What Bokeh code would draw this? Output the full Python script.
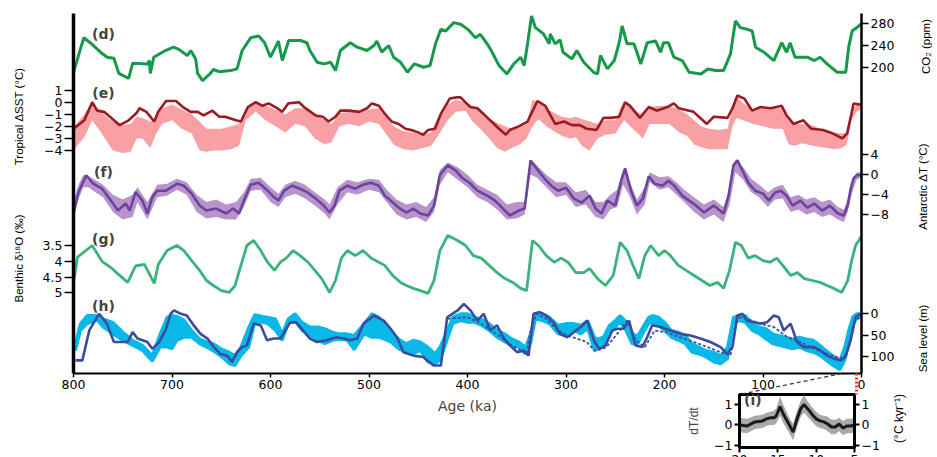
from bokeh.plotting import figure
from bokeh.models import Range1d, LinearAxis, FixedTicker, Label
from bokeh.layouts import column
from bokeh.embed import file_html
from bokeh.resources import INLINE

# ---------------- data ----------------
co2_age = [800, 789.5, 783, 772.6, 765.8, 759, 754, 744, 740, 725, 723, 722, 718.6, 706.6, 698.5, 693, 684.5, 681, 676, 674,
           669, 661, 658, 652, 640.6, 634, 628.7, 620, 612, 606, 600, 595, 592, 588, 581.5, 569.5, 563, 560, 552.6, 546,
           539, 534, 529, 519, 512, 502, 495, 492, 487, 480, 475, 468, 461, 454, 444.5, 438, 432.5, 427, 422, 414,
           407, 399, 392, 387, 380, 375, 368, 360, 353, 346, 342.5, 339, 335, 331, 323, 317, 316, 311, 306, 303,
           294, 289, 282, 272, 268, 265, 258, 251, 246, 243, 238, 231, 224, 217.6, 209, 204, 201, 196, 190.5, 182,
           175, 163, 156, 148, 140, 133, 128, 123, 116, 111, 107.6, 99, 89, 81, 76, 72.5, 67.5, 55, 48, 42,
           35, 24.7, 16, 13, 9.5, 2.7, 0]
co2_ppm = [192, 254, 245, 228, 219, 217, 190, 181, 208, 207, 213, 190, 219, 231, 237, 233, 222, 231, 216, 190,
           177, 190, 197, 193, 195, 198, 231, 254, 257, 245, 219, 237, 248, 213, 249, 249, 245, 231, 210, 207,
           210, 195, 231, 245, 237, 231, 240, 248, 228, 240, 219, 210, 192, 207, 201, 204, 243, 269, 266, 281,
           278, 268, 254, 260, 243, 228, 204, 189, 207, 219, 204, 243, 293, 272, 261, 243, 261, 243, 250, 228,
           216, 231, 210, 192, 189, 222, 198, 213, 245, 275, 243, 243, 207, 245, 248, 228, 245, 245, 219, 213,
           192, 189, 198, 195, 195, 225, 284, 272, 269, 266, 237, 228, 213, 245, 228, 245, 219, 219, 213, 219,
           207, 192, 192, 237, 266, 275, 280]

sst_age = [800, 789, 781, 776, 769, 763, 753, 744, 736, 733, 726, 718, 714, 706, 696, 689, 681, 674, 668, 659,
           652, 646, 635, 630, 623, 615, 608, 602, 595, 588, 582, 571, 566, 561, 554, 547, 541, 534, 529, 520,
           510, 502, 497, 490, 484, 477, 470, 463, 457, 450, 445, 440, 433, 427, 418, 411, 407, 401, 397, 390,
           384, 377, 368, 361, 357, 348, 339, 329, 321, 311, 302, 294, 286, 279, 269, 262, 254, 246, 240, 235,
           225, 216, 208, 197, 190.6, 185.5, 170.5, 157, 150, 136, 131, 126, 119, 111, 102.5, 92, 81, 76, 69, 59,
           51, 39, 29, 19.6, 14.6, 8, 1]
sst_val = [-2.2, -1.5, 0.0, -0.7, -0.8, -1.2, -1.9, -1.5, -0.9, -0.5, -0.8, -1.6, -0.8, 0.1, 0.1, -0.4, -0.8, -0.8, -1.1, -0.7,
           -1.2, -1.2, -1.5, -1.6, -0.4, 0.0, -0.3, -0.1, -0.4, -0.8, -0.1, 0.0, -0.4, -0.7, -1.1, -1.2, -1.6, -1.2, -0.7, -0.7,
           -0.8, -0.5, -0.1, -0.3, -0.95, -1.6, -1.8, -2.2, -2.3, -2.5, -2.7, -2.3, -2.2, -0.95, 0.3, 0.4, 0.4, -0.1, -0.4, -0.5,
           -0.95, -1.5, -2.2, -2.7, -2.3, -2.0, -1.6, 0.1, -0.3, -1.8, -1.6, -1.9, -1.9, -2.2, -2.3, -1.3, -1.3, -1.2, 0.0, -0.3,
           -1.3, -0.4, -0.7, -0.4, -0.1, -0.5, -0.8, -1.8, -1.2, -1.3, -0.5, 0.55, 0.3, -0.7, -0.4, -0.5, -0.3, -1.1, -1.8, -1.5,
           -2.2, -2.3, -2.6, -3.0, -2.6, -0.1, -0.2]

sst_band_age = [800, 789, 781, 772, 765, 760, 750, 742, 736, 730, 722, 716, 710, 700, 690, 680, 672, 665, 658, 650,
                640, 632, 625, 615, 605, 595, 585, 575, 565, 555, 545, 538, 530, 520, 510, 500, 490, 483, 475, 465,
                455, 445, 437, 430, 420, 412, 402, 395, 387, 378, 370, 362, 355, 347, 340, 334, 328, 320, 312, 304,
                296, 290, 284, 276, 268, 260, 250, 241, 235, 228, 222, 215, 205, 195, 185, 177, 170, 163, 155, 145,
                136, 131, 127, 120, 110, 100, 90, 80, 74, 68, 60, 50, 42, 35, 27, 20, 15, 10, 5, 1]
sst_hi = [-2.1, -1.0, 0.0, -0.8, -1.3, -1.6, -1.9, -1.8, -1.2, -1.3, -1.6, -1.2, -0.5, -0.2, -0.6, -1.0, -1.6, -2.2, -2.2, -2.2,
          -2.0, -1.8, -0.6, 0.0, -0.3, -0.6, -1.0, -0.5, -0.5, -1.0, -1.5, -1.8, -0.9, -0.8, -0.8, -0.6, -0.5, -1.2, -2.0, -2.4,
          -2.5, -2.7, -2.5, -1.2, -0.2, 0.2, 0.0, -0.5, -0.7, -1.4, -1.7, -2.0, -2.2, -2.1, -1.8, 0.2, 0.0, -0.5, -0.9, -1.2,
          -1.3, -1.2, -1.4, -1.6, -1.8, -1.5, -1.5, 0.1, -0.4, -0.8, -1.1, -0.4, -0.3, -0.3, -0.6, -1.0, -1.5, -2.0, -2.2, -2.3,
          -2.2, -0.5, 0.5, -0.1, -0.6, -0.5, -0.5, -0.5, -1.5, -1.8, -1.8, -1.9, -2.2, -2.5, -2.5, -2.6, -2.5, -0.8, -0.2, -0.1]
sst_lo = [-4.0, -2.9, -1.5, -2.5, -3.4, -4.0, -4.2, -4.1, -3.0, -3.0, -3.8, -2.6, -1.8, -1.5, -2.2, -2.6, -4.0, -4.1, -4.0, -4.0,
          -3.9, -3.6, -1.5, -0.8, -1.5, -2.0, -2.5, -1.8, -2.0, -3.0, -3.5, -3.3, -2.0, -1.8, -2.0, -1.6, -1.8, -2.6, -3.5, -3.9,
          -4.0, -3.8, -3.6, -2.8, -1.5, -0.8, -0.7, -1.6, -2.2, -3.0, -3.8, -4.1, -3.8, -3.5, -3.0, -2.0, -1.4, -2.0, -2.4, -2.8,
          -3.0, -2.9, -3.6, -4.0, -3.0, -2.7, -2.6, -1.5, -2.0, -2.5, -3.0, -1.8, -1.8, -1.8, -2.5, -2.8, -3.5, -3.7, -3.9, -3.9,
          -3.9, -2.0, -1.3, -1.5, -1.8, -2.0, -2.2, -2.2, -3.5, -3.6, -3.4, -3.6, -3.7, -3.8, -3.9, -3.8, -3.5, -1.5, -0.8, -0.6]

ant_age = [800, 795, 787, 780, 771, 762, 755, 747, 743, 737, 730, 725, 720, 715, 706, 695, 688, 680, 672, 665,
           655, 645, 638, 632, 627, 620, 612, 605, 598, 592, 586, 578, 570, 562, 554, 546, 540, 535, 530, 522,
           514, 506, 498, 490, 484, 478, 470, 462, 455, 448, 440, 434, 428, 420, 412, 405, 398, 390, 380, 372,
           365, 357, 348, 342, 336, 330, 322, 315, 308, 300, 292, 284, 276, 270, 264, 258, 250, 244, 240, 234,
           228, 222, 216, 210, 202, 196, 190, 182, 175, 168, 160, 150, 140, 135, 130, 126, 120, 115, 108, 100,
           94, 88, 82, 76, 70, 62, 55, 48, 40, 32, 24, 18, 14, 11, 8, 5, 0]
ant_val = [-7.8, -3.5, -0.1, -1.8, -2.8, -5.2, -7.2, -5.8, -7.2, -3.5, -5.2, -7.8, -4.5, -3.2, -3.2, -1.8, -2.2, -3.8, -6.2, -7.2,
           -6.8, -7.8, -6.8, -7.8, -5.2, -2.0, -1.6, -2.8, -4.2, -5.2, -3.2, -2.2, -2.8, -3.6, -4.8, -6.2, -7.6, -6.2, -3.2, -2.2,
           -2.8, -2.0, -1.6, -2.2, -4.2, -5.2, -6.6, -7.6, -6.8, -7.8, -8.2, -6.2, 0.0, 1.9, 0.9, -0.7, -1.6, -3.2, -4.2, -5.2,
           -6.6, -8.2, -7.2, -6.8, 2.9, 1.3, -0.7, -2.2, -3.2, -2.6, -4.8, -5.6, -4.2, -6.8, -7.8, -5.2, -6.2, -1.2, 1.3, -3.2,
           -6.2, -4.8, -0.3, -1.8, -2.2, -1.2, -2.2, -4.2, -5.2, -6.2, -7.6, -6.2, -7.8, -4.2, 1.9, 2.9, 0.5, -1.6, -3.2, -3.8,
           -5.2, -3.6, -3.2, -4.2, -6.2, -5.2, -6.6, -5.8, -7.2, -6.2, -7.8, -8.2, -6.2, -2.8, -0.7, -0.1, 0.0]

ant_band_age = [800, 795, 790, 785, 780, 770, 760, 750, 740, 735, 725, 715, 705, 695, 685, 675, 665, 655, 645, 635,
                627, 620, 610, 600, 592, 585, 575, 565, 555, 545, 540, 532, 522, 512, 500, 490, 482, 472, 462, 452,
                442, 434, 428, 420, 410, 400, 390, 380, 370, 360, 350, 342, 336, 330, 320, 310, 300, 290, 280, 270,
                262, 255, 248, 242, 236, 228, 220, 215, 205, 196, 188, 180, 170, 160, 150, 140, 134, 128, 120, 112,
                104, 95, 88, 80, 72, 64, 56, 48, 40, 32, 24, 18, 14, 10, 5, 0]
ant_hi = [-5.5, -2.0, 0.0, -0.3, -0.8, -2.0, -4.0, -5.0, -4.0, -2.5, -5.5, -2.0, -1.8, -0.8, -1.5, -4.0, -5.5, -5.0, -6.0, -5.5,
          -3.5, -0.8, -0.6, -2.5, -3.8, -2.0, -1.2, -2.0, -3.5, -5.0, -6.0, -2.5, -1.0, -1.5, -0.8, -1.0, -3.0, -5.0, -6.0, -5.5,
          -6.5, -4.5, 1.0, 2.5, 1.5, 0.0, -2.0, -3.0, -4.0, -6.0, -5.5, -5.5, 3.0, 2.0, 0.0, -1.5, -1.5, -3.5, -3.0, -5.5,
          -5.5, -4.0, -3.0, 1.0, -1.0, -5.0, -2.5, 0.5, -0.5, -0.3, -1.5, -3.0, -4.5, -6.0, -5.0, -6.5, -3.0, 3.0, 1.5, -0.8,
          -2.0, -3.5, -2.5, -2.0, -4.5, -4.0, -5.0, -4.5, -5.5, -5.0, -6.5, -7.0, -5.0, -1.5, 0.5, 0.5]
ant_lo = [-8.5, -5.0, -2.5, -2.5, -3.2, -4.5, -7.5, -9.0, -8.5, -5.5, -9.0, -4.5, -4.2, -3.0, -4.0, -7.5, -8.8, -8.5, -9.0, -9.0,
          -6.5, -3.2, -3.0, -5.5, -6.5, -4.5, -3.8, -4.8, -6.2, -7.8, -9.0, -6.0, -3.5, -4.0, -3.0, -3.5, -5.5, -8.0, -9.0, -8.5,
          -9.5, -7.5, -2.0, 0.5, -1.0, -2.5, -4.5, -5.5, -7.0, -9.0, -8.8, -8.0, 0.0, -0.5, -2.5, -4.5, -4.0, -6.5, -6.0, -8.5,
          -9.0, -7.0, -6.5, -2.0, -4.0, -8.0, -6.0, -1.5, -3.0, -2.5, -4.0, -5.5, -7.5, -9.0, -8.0, -9.5, -6.0, 0.5, -1.0, -3.5,
          -4.5, -6.5, -5.0, -4.8, -7.5, -7.0, -8.0, -7.5, -8.5, -8.0, -9.0, -9.5, -7.5, -4.0, -1.0, -0.5]

d18o_age = [800, 796, 781, 771, 762, 755, 745, 737, 728, 718, 714, 705, 695, 688, 680, 672, 665, 658, 650, 642,
            636, 630, 624, 617, 610, 603, 596, 590, 584, 577, 570, 562, 555, 548, 540, 534, 528, 522, 514, 506,
            498, 490, 484, 476, 468, 462, 455, 448, 440, 434, 428, 420, 410, 402, 394, 386, 378, 370, 362, 354,
            346, 340, 334, 328, 320, 312, 305, 298, 290, 282, 276, 268, 260, 252, 245, 238, 232, 226, 220, 214,
            206, 200, 194, 186, 178, 170, 162, 154, 146, 140, 134, 128, 122, 115, 108, 100, 93, 86, 80, 72,
            65, 58, 50, 42, 35, 28, 20, 14, 10, 6, 0]
d18o_val = [4.7, 3.87, 3.5, 4.0, 4.2, 4.4, 4.67, 4.15, 4.1, 4.7, 4.1, 3.66, 3.5, 3.66, 3.98, 4.29, 4.61, 4.77, 4.93, 4.99,
            4.77, 4.13, 3.5, 3.34, 3.66, 4.03, 4.29, 4.03, 3.9, 3.66, 3.82, 4.03, 4.29, 4.55, 4.99, 4.61, 3.9, 3.66, 3.82, 3.66,
            3.9, 4.03, 4.13, 4.45, 4.67, 4.77, 4.86, 4.93, 5.02, 4.61, 3.66, 3.18, 3.34, 3.5, 3.82, 3.9, 4.13, 4.36, 4.55, 4.67,
            4.86, 4.93, 3.34, 3.5, 3.82, 4.03, 3.9, 4.03, 4.36, 4.36, 4.23, 4.55, 4.77, 4.45, 3.4, 3.66, 4.13, 4.55, 3.82, 3.5,
            3.82, 3.66, 3.82, 4.13, 4.29, 4.45, 4.61, 4.77, 4.67, 4.86, 4.29, 3.4, 3.5, 3.9, 3.82, 3.98, 4.03, 3.9, 4.13, 4.45,
            4.36, 4.55, 4.61, 4.67, 4.77, 4.86, 4.99, 4.61, 3.98, 3.5, 3.2]

sea_age = [798, 791, 784, 774, 766, 759, 751, 745, 740, 735, 730, 725, 720, 713, 706.6, 701.5, 698, 691, 685, 678,
           671, 664, 657.5, 651, 644, 639, 634, 629, 624, 617, 610, 603.5, 597, 590, 580, 574, 567, 560, 553, 543,
           533, 526, 519, 512, 505.5, 495, 485, 478, 471, 465, 455, 445, 434.5, 427, 420.6, 410, 403.7, 397, 390, 383.6,
           377, 370, 363, 357, 349.5, 343, 338, 333, 326.6, 320, 312.7, 306, 298.7, 292, 285, 278.5, 271.7, 266.6, 259.8, 253,
           248, 241.6, 236, 229.4, 222.6, 217.6, 212.5, 204, 194, 183.8, 173.6, 163.5, 153.3, 143, 136.4, 131, 126, 121, 116, 109,
           102.5, 96, 89, 84, 79, 72, 65.4, 58.6, 48, 41.6, 34.9, 28, 21.3, 16.2, 11, 6, 1]
sea_val = [109, 109, 39, 0, 23, 66, 66, 66, 43, 58, 62, 66, 82, 66, 39, 0, -8, 0, 4, 27,
           47, 58, 78, 94, 98, 113, 90, 78, 74, 23, 27, 62, 58, 58, 20, 20, 39, 58, 66, 62,
           55, 58, 62, 58, 23, 4, 16, 35, 58, 90, 98, 101, 121, 121, 8, -8, -23, -8, 16, 0,
           39, 27, 58, 74, 90, 86, 98, 0, -4, 4, 20, 47, 55, 43, 31, 16, 62, 82, 74, 39,
           35, 35, 16, 74, 78, 55, 27, 31, 39, 47, 51, 58, 66, 78, 94, 78, 4, 0, 16, 20,
           23, 20, 4, 8, 39, 23, 66, 78, 78, 86, 98, 105, 109, 101, 62, 8, 0]

sea_band_age = [798, 793, 786, 776, 770, 760, 750, 740, 730, 720, 712, 705, 700, 695, 688, 680, 672, 665, 658, 650,
                642, 636, 630, 622, 616, 608, 603, 595, 588, 582, 575, 568, 560, 552, 545, 537, 530, 522, 515, 505,
                497, 490, 485, 478, 470, 462, 455, 448, 440, 433, 428, 422, 415, 407, 400, 393, 386, 378, 370, 362,
                355, 348, 341, 336, 331, 324, 317, 308, 300, 292, 285, 278, 271, 268, 262, 256, 250, 245, 240, 233,
                227, 222, 216, 212, 206, 200, 193, 186, 179, 172, 165, 158, 150, 143, 136, 130, 124, 118, 111, 104,
                97, 90, 84, 77, 70, 63, 56, 49, 42, 36, 29, 22, 17, 13, 9, 5, 1]
sea_hi = [70, 23, 4, 4, 12, 20, 43, 62, 74, 98, 47, 8, 4, 6, 14, 39, 59, 66, 70, 82,
          90, 98, 78, 31, 2, 6, 8, 12, 47, 12, 0, 20, 31, 31, 35, 43, 47, 47, 51, 23,
          0, 8, 23, 39, 59, 70, 62, 66, 78, 94, 78, 47, 8, 0, 0, 8, 12, 23, 39, 47,
          59, 66, 78, 47, 0, 0, 8, 27, 23, 23, 27, 16, 55, 59, 55, 27, 16, 4, 16, 47,
          51, 31, 8, 4, 8, 20, 39, 43, 51, 70, 78, 86, 90, 98, 78, 8, 4, 4, 23, 31,
          35, 47, 51, 55, 59, 55, 59, 62, 74, 86, 98, 109, 78, 39, 8, 0, 0]
sea_lo = [86, 39, 23, 14, 31, 47, 62, 74, 86, 111, 78, 78, 82, 62, 55, 55, 70, 78, 87, 100,
          117, 121, 98, 78, 20, 20, 23, 39, 62, 23, 17, 39, 51, 62, 70, 62, 59, 62, 84, 47,
          55, 55, 59, 66, 82, 90, 94, 86, 113, 117, 109, 70, 23, 16, 20, 20, 27, 39, 55, 66,
          74, 78, 94, 70, 12, 16, 23, 47, 51, 39, 47, 35, 86, 82, 78, 47, 31, 20, 35, 70,
          70, 47, 23, 20, 27, 39, 55, 62, 70, 90, 94, 101, 113, 117, 105, 23, 16, 20, 39, 47,
          59, 70, 74, 78, 82, 78, 86, 90, 98, 109, 121, 131, 109, 62, 23, 12, 8]

sea2_age = [420, 415, 400, 386, 366, 355, 340, 336, 330, 320, 308, 299, 289, 279, 271, 268, 259, 248, 238, 229,
            220, 210, 199, 184, 170, 156, 143, 133, 126, 116, 103, 89, 75, 62, 48, 35, 21, 15, 8, 1]
sea2_val = [12, 10, 8, 23, 55, 74, 94, 39, 0, 12, 39, 51, 58, 66, 86, 86, 78, 47, 16, 62,
            78, 39, 43, 55, 66, 78, 90, 98, 8, 12, 23, 31, 55, 66, 82, 94, 105, 94, 23, 4]

inset_age = [20, 19, 18, 17, 16.5, 16, 15.5, 15.2, 14.7, 14.3, 13.5, 13, 12.5, 12, 11.6, 11, 10.5, 10, 9.5, 9,
             8.5, 8, 7.5, 7, 6.5, 6, 5.5, 5]
inset_val = [0.0, -0.05, 0.15, 0.2, 0.3, 0.35, 0.35, 0.45, 0.9, 0.55, 0.0, -0.35, 0.3, 0.8, 1.0, 0.75, 0.5, 0.3, 0.2, 0.15,
             0.05, -0.1, -0.1, 0.05, -0.15, -0.05, -0.05, 0.0]
inset_hi = [0.35, 0.3, 0.45, 0.5, 0.6, 0.65, 0.7, 0.8, 1.4, 1.0, 0.35, 0.05, 0.7, 1.2, 1.45, 1.1, 0.85, 0.65, 0.5, 0.45,
            0.4, 0.25, 0.25, 0.35, 0.2, 0.3, 0.3, 0.35]
inset_lo = [-0.35, -0.4, -0.2, -0.15, -0.05, 0.0, 0.0, 0.1, 0.45, 0.1, -0.4, -0.75, -0.1, 0.4, 0.6, 0.35, 0.15, -0.05, -0.15, -0.2,
            -0.3, -0.45, -0.45, -0.3, -0.5, -0.4, -0.4, -0.35]

age_ticks = [800, 700, 600, 500, 400, 300, 200, 100, 0]
sst_ticks = [1, 0, -1, -2, -3, -4]
d18o_ticks = [3.5, 4, 4.5, 5]
co2_ticks = [280, 240, 200]
ant_ticks = [4, 0, -4, -8]
sea_ticks = [0, 50, 100]
inset_x_ticks = [20, 15, 10, 5]
inset_y_ticks = [-1, 0, 1]

# ---------------- layout helpers (page pixels; the page starts at 0,0) ----------------
FONT = "DejaVu Sans"
LAB = "Liberation Sans"
W, H = 936, 457
FRAME_TOP, FRAME_BOT = 13.0, 373.0
FRAME_L, FRAME_R = 73.0, 861.0
FH = FRAME_BOT - FRAME_TOP
N = 3600
MAIN_H = 418


def make_range(va, ya, vb, yb):
    fa, fb = ya - FRAME_TOP, yb - FRAME_TOP
    k = (vb - va) / (fb - fa)
    return Range1d(start=va + (FH - fa) * k, end=va - fa * k)


ranges = {
    "co2": make_range(280, 22.7, 200, 67.3),
    "sst": make_range(0, 101.7, -4, 150.0),
    "ant": make_range(0, 174.3, -8, 214.0),
    "d18o": make_range(3.5, 245.0, 5.0, 292.3),
    "sea": make_range(0, 313.3, 100, 356.0),
}


def tpos(name, v):
    r = ranges[name]
    return int(round((v - r.start) / (r.end - r.start) * N))


def ypix(py):
    return (FRAME_BOT - py) / FH * N


def xka(px):
    return (FRAME_R - px) / (FRAME_R - FRAME_L) * 800.0


def fmt(v):
    return ("%g" % v).replace("-", "\u2212")


def style_axis(ax, lw, out, size="12.5px"):
    ax.axis_line_width = lw
    ax.axis_line_color = "black"
    ax.major_tick_line_width = 1.5
    ax.major_tick_out = out
    ax.major_tick_in = 0
    ax.minor_tick_line_color = None
    ax.major_label_standoff = 2
    ax.major_label_text_font = FONT
    ax.major_label_text_font_size = size
    ax.major_label_text_color = "black"


# ---------------- main figure ----------------
p = figure(width=W, height=MAIN_H, x_range=Range1d(800, 0), y_range=Range1d(0, N),
           output_backend="svg", toolbar_location=None,
           min_border_left=int(FRAME_L), min_border_right=int(W - FRAME_R),
           min_border_top=int(FRAME_TOP), min_border_bottom=int(MAIN_H - FRAME_BOT))
p.frame_align = False
p.extra_y_ranges = ranges
p.outline_line_color = None
p.grid.visible = False
p.background_fill_color = "white"
p.border_fill_color = "white"

xa = p.xaxis[0]
xa.ticker = FixedTicker(ticks=age_ticks)
style_axis(xa, 2, 4)
xa.axis_label = "Age (ka)"
xa.axis_label_text_font = FONT
xa.axis_label_text_font_size = "14px"
xa.axis_label_text_font_style = "normal"
xa.axis_label_standoff = 6

left_ticks, left_labels = [], {}
for name, ticks in (("sst", sst_ticks), ("d18o", d18o_ticks)):
    for v in ticks:
        t = tpos(name, v)
        left_ticks.append(t)
        left_labels[t] = fmt(v)
ya = p.yaxis[0]
ya.ticker = FixedTicker(ticks=left_ticks)
ya.major_label_overrides = left_labels
style_axis(ya, 3.5, 9)

right_ticks, right_labels = [], {}
for name, ticks in (("co2", co2_ticks), ("ant", ant_ticks), ("sea", sea_ticks)):
    for v in ticks:
        t = tpos(name, v)
        right_ticks.append(t)
        right_labels[t] = fmt(v)
yr = LinearAxis(ticker=FixedTicker(ticks=right_ticks), major_label_overrides=right_labels)
p.add_layout(yr, "right")
style_axis(yr, 2.5, 7)

# series
p.line(co2_age, co2_ppm, y_range_name="co2", line_color="#16994a", line_width=3)
p.varea(x=sst_band_age, y1=sst_lo, y2=sst_hi, y_range_name="sst", fill_color="#f8a0a3")
p.line(sst_age, sst_val, y_range_name="sst", line_color="#9b1b22", line_width=2.6)
p.varea(x=ant_band_age, y1=ant_lo, y2=ant_hi, y_range_name="ant", fill_color="#b894cb")
p.line(ant_age, ant_val, y_range_name="ant", line_color="#6a449e", line_width=2.6)
p.line(d18o_age, d18o_val, y_range_name="d18o", line_color="#3ab37c", line_width=2.8)
p.varea(x=sea_band_age, y1=sea_lo, y2=sea_hi, y_range_name="sea", fill_color="#08b9e8")
p.line(sea_band_age, sea_hi, y_range_name="sea", line_color="#08b9e8", line_width=3)
p.line(sea_band_age, sea_lo, y_range_name="sea", line_color="#08b9e8", line_width=3)
p.line(sea2_age, sea2_val, y_range_name="sea", line_color="#3d4f9f", line_width=1.8, line_dash="3 2")
p.line(sea_age, sea_val, y_range_name="sea", line_color="#3b4c9f", line_width=2.6)

# panel letters
for txt, py in (("(d)", 33), ("(e)", 92), ("(f)", 171), ("(g)", 238), ("(h)", 305)):
    p.add_layout(Label(x=xka(103), y=ypix(py), text=txt, text_align="center", text_baseline="middle",
                       text_font=FONT, text_font_style="bold", text_font_size="14px"))

# ---------------- inset (i) ----------------
IN_TOP = 382
IN_H = 85
IN_LEFT = 682
q = figure(width=238, height=IN_H, x_range=Range1d(20, 5), y_range=Range1d(-1.1, 1.49),
           output_backend="svg", toolbar_location=None,
           min_border_left=57, min_border_right=66, min_border_top=12, min_border_bottom=20)
q.frame_align = False
q.margin = (IN_TOP - MAIN_H, 0, H - (IN_TOP + IN_H), IN_LEFT)
q.border_fill_color = None
q.background_fill_color = "white"
q.outline_line_color = "black"
q.outline_line_width = 3
q.grid.visible = False

q.varea(x=inset_age, y1=inset_lo, y2=inset_hi, fill_color="#a9a9a9")
q.line(inset_age, inset_val, line_color="#1a1a1a", line_width=3)

qx = q.xaxis[0]
qx.ticker = FixedTicker(ticks=inset_x_ticks)
qy = q.yaxis[0]
qy.ticker = FixedTicker(ticks=inset_y_ticks)
qy.axis_label = "dT/dt"
qr = LinearAxis(ticker=FixedTicker(ticks=inset_y_ticks))
q.add_layout(qr, "right")
for ax in (qx, qy, qr):
    style_axis(ax, 3, 5)
    ax.major_tick_line_width = 2
    ticks = inset_x_ticks if ax is qx else inset_y_ticks
    ax.major_label_overrides = {v: fmt(v) for v in ticks}
qy.axis_label_text_font = LAB
qy.axis_label_text_font_size = "12px"
qy.axis_label_text_font_style = "normal"
qy.axis_label_standoff = 10
q.add_layout(Label(x=19.4, y=1.2, text="(i)", text_align="left", text_baseline="middle",
                   text_font=FONT, text_font_style="bold", text_font_size="14px"))

# ---------------- overlay: side labels and connectors (whole page) ----------------
o = figure(width=W, height=H, x_range=Range1d(xka(0), xka(W)), y_range=Range1d(H, 0),
           output_backend="svg", toolbar_location=None, x_axis_location=None, y_axis_location=None,
           min_border=0, min_border_left=0, min_border_right=0, min_border_top=0, min_border_bottom=0)
o.frame_align = False
o.margin = (-H, 0, 0, 0)
o.outline_line_color = None
o.background_fill_color = None
o.border_fill_color = None
o.grid.visible = False

for txt, px, py, size in (("Tropical \u0394SST (\u00b0C)", 18, 116, "11.5px"),
                          ("Benthic \u03b4\u00b9\u2078O (\u2030)", 18, 258, "11.5px"),
                          ("CO\u2082 (ppm)", 925, 46, "11.5px"),
                          ("Antarctic \u0394T (\u00b0C)", 922, 186, "11.5px"),
                          ("Sea level (m)", 922, 338, "11.5px"),
                          ("(\u00b0C kyr\u207b\u00b9)", 898, 418, "12px")):
    o.add_layout(Label(x=xka(px), y=py, text=txt, angle=90, angle_units="deg",
                       text_align="center", text_baseline="middle",
                       text_font=LAB, text_font_size=size, text_color="black"))

# dashed connector (20 ka on the main axis -> inset corner) and red dotted marker (5 ka)
o.line(x=[20, xka(739)], y=[FRAME_BOT, 394], line_color="#333333", line_width=1.2, line_dash="4 3")
o.line(x=[5, 5], y=[FRAME_BOT, 394], line_color="#ee3030", line_width=3, line_dash="2 2")

layout = column(p, q, o)
layout.styles = {"overflow": "hidden"}

open("out.html", "w").write(file_html(layout, INLINE))
